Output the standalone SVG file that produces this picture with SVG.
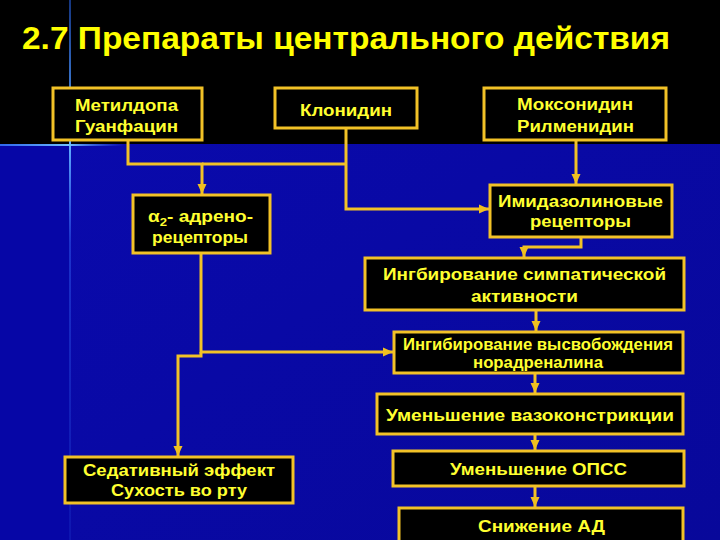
<svg xmlns="http://www.w3.org/2000/svg" width="720" height="540" viewBox="0 0 720 540">
<defs>
<linearGradient id="bg" x1="0" y1="0" x2="1" y2="1">
<stop offset="0" stop-color="#0a0ab0"/>
<stop offset="1" stop-color="#08089a"/>
</linearGradient>
<linearGradient id="vline" x1="0" y1="0" x2="0" y2="1">
<stop offset="0" stop-color="#2a6cff" stop-opacity="0.5"/>
<stop offset="0.27" stop-color="#60b0ff" stop-opacity="1"/>
<stop offset="0.45" stop-color="#3a70ff" stop-opacity="0.4"/>
<stop offset="1" stop-color="#2040d0" stop-opacity="0.25"/>
</linearGradient>
<linearGradient id="hline" x1="0" y1="0" x2="1" y2="0">
<stop offset="0" stop-color="#3a80ff" stop-opacity="0.8"/>
<stop offset="0.55" stop-color="#70c0ff" stop-opacity="1"/>
<stop offset="1" stop-color="#3a80ff" stop-opacity="0"/>
</linearGradient>
<marker id="ah" markerUnits="userSpaceOnUse" markerWidth="10" markerHeight="10" viewBox="0 0 10 10" refX="10" refY="5" orient="auto">
<path d="M0,0.5 L10,5 L0,9.5 Z" fill="#f0c020"/>
</marker>
<style>
.box{fill:#000;stroke:#f2c227;stroke-width:3}
.t{font-family:"Liberation Sans",Arial,sans-serif;font-weight:bold;font-size:16px;fill:#ffff30;text-anchor:middle}
.c{fill:none;stroke:#f2c227;stroke-width:3}
</style>
</defs>
<rect x="0" y="0" width="720" height="540" fill="url(#bg)"/>
<rect x="0" y="144" width="70" height="396" fill="#0606a6"/>
<rect x="0" y="0" width="720" height="144" fill="#000"/>
<rect x="69" y="0" width="2" height="540" fill="url(#vline)"/>
<rect x="0" y="144" width="125" height="2" fill="url(#hline)"/>
<text x="22" y="49" font-family="'Liberation Sans',Arial,sans-serif" font-weight="bold" font-size="31" fill="#ffff00" textLength="648" lengthAdjust="spacingAndGlyphs">2.7 Препараты центрального действия</text>
<g id="connectors">
<path class="c" d="M128,140 V164 H202 V194" marker-end="url(#ah)"/>
<path class="c" d="M346,128 V209 H489" marker-end="url(#ah)"/>
<path class="c" d="M346,164 H202"/>
<path class="c" d="M576,140 V184" marker-end="url(#ah)"/>
<path class="c" d="M581,237 V247 H524 V257" marker-end="url(#ah)"/>
<path class="c" d="M536,310 V331" marker-end="url(#ah)"/>
<path class="c" d="M201,253 V352 H393" marker-end="url(#ah)"/>
<path class="c" d="M201,352 V356 H178 V456" marker-end="url(#ah)"/>
<path class="c" d="M535,373 V393" marker-end="url(#ah)"/>
<path class="c" d="M535,434 V450" marker-end="url(#ah)"/>
<path class="c" d="M535,486 V507" marker-end="url(#ah)"/>
</g>
<g id="n-metildopa">
<rect class="box" x="53" y="88" width="149" height="52"/>
<text class="t" x="126.5" y="111" textLength="103" lengthAdjust="spacingAndGlyphs">Метилдопа</text>
<text class="t" x="126.5" y="132" textLength="103" lengthAdjust="spacingAndGlyphs">Гуанфацин</text>
</g>
<g id="n-klonidin">
<rect class="box" x="275" y="88" width="142" height="40"/>
<text class="t" x="346" y="116" textLength="92" lengthAdjust="spacingAndGlyphs">Клонидин</text>
</g>
<g id="n-moksonidin">
<rect class="box" x="484" y="88" width="182" height="52"/>
<text class="t" x="575" y="110" textLength="116" lengthAdjust="spacingAndGlyphs">Моксонидин</text>
<text class="t" x="575.5" y="132" textLength="117" lengthAdjust="spacingAndGlyphs">Рилменидин</text>
</g>
<g id="n-alpha2">
<rect class="box" x="133" y="195" width="137" height="58"/>
<text class="t" x="200.5" y="222" textLength="105" lengthAdjust="spacingAndGlyphs">α<tspan font-size="11" dy="4">2</tspan><tspan dy="-4">- адрено-</tspan></text>
<text class="t" x="200" y="243" textLength="96" lengthAdjust="spacingAndGlyphs">рецепторы</text>
</g>
<g id="n-imidazolin">
<rect class="box" x="490" y="185" width="182" height="52"/>
<text class="t" x="580.5" y="207" textLength="165" lengthAdjust="spacingAndGlyphs">Имидазолиновые</text>
<text class="t" x="580.5" y="227" textLength="101" lengthAdjust="spacingAndGlyphs">рецепторы</text>
</g>
<g id="n-simpat">
<rect class="box" x="365" y="258" width="319" height="52"/>
<text class="t" x="524.5" y="280" textLength="283" lengthAdjust="spacingAndGlyphs">Ингбирование симпатической</text>
<text class="t" x="524.5" y="302" textLength="107" lengthAdjust="spacingAndGlyphs">активности</text>
</g>
<g id="n-noradr">
<rect class="box" x="394" y="332" width="289" height="41"/>
<text class="t" x="538" y="350" font-size="15" textLength="270" lengthAdjust="spacingAndGlyphs">Ингибирование высвобождения</text>
<text class="t" x="538" y="368" font-size="15" textLength="130" lengthAdjust="spacingAndGlyphs">норадреналина</text>
</g>
<g id="n-vazo">
<rect class="box" x="377" y="394" width="306" height="40"/>
<text class="t" x="530" y="421" textLength="288" lengthAdjust="spacingAndGlyphs">Уменьшение вазоконстрикции</text>
</g>
<g id="n-sedat">
<rect class="box" x="65" y="457" width="228" height="46"/>
<text class="t" x="179" y="476" textLength="192" lengthAdjust="spacingAndGlyphs">Седативный эффект</text>
<text class="t" x="179" y="496" textLength="136" lengthAdjust="spacingAndGlyphs">Сухость во рту</text>
</g>
<g id="n-opss">
<rect class="box" x="393" y="451" width="291" height="35"/>
<text class="t" x="538.5" y="475" textLength="177" lengthAdjust="spacingAndGlyphs">Уменьшение ОПСС</text>
</g>
<g id="n-ad">
<rect class="box" x="399" y="508" width="284" height="36"/>
<text class="t" x="541.5" y="532" textLength="127" lengthAdjust="spacingAndGlyphs">Снижение АД</text>
</g>
</svg>
